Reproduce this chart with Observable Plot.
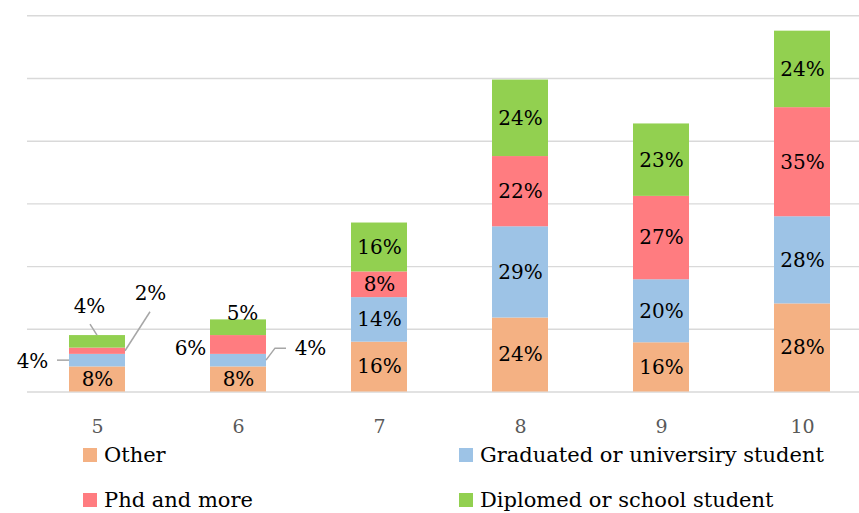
<!DOCTYPE html>
<html><head><meta charset="utf-8">
<script src="https://cdn.jsdelivr.net/npm/d3@7"></script>
<script src="https://cdn.jsdelivr.net/npm/@observablehq/plot@0.6"></script>
<style>
body{margin:0;background:#fff;font-family:"DejaVu Serif",serif;}
#wrap{position:relative;width:859px;height:513px;background:#fff;}
#chart svg{display:block;}
.sw{position:absolute;width:14px;height:14px;}
.lt{position:absolute;font-size:21px;line-height:18px;color:#000;white-space:nowrap;}
</style></head><body><div id="wrap"><div id="chart"></div><div id="legend"></div></div>
<script>
// ---- data ----
const categories = ["5", "6", "7", "8", "9", "10"];
const seriesNames = ["Other", "Graduated or universiry student", "Phd and more", "Diplomed or school student"];
const other     = [8, 8, 15.9, 23.6, 15.7, 28.1];
const graduated = [4, 4, 14.2, 29.1, 20.1, 27.8];
const phd       = [2, 6, 8.2, 22.4, 26.6, 34.8];
const diplomed  = [4, 5, 15.6, 24.4, 23.1, 24.4];
const seriesColors = ["#F4B183", "#9DC3E6", "#FF7C80", "#92D050"];
const gridTicks = [0, 20, 40, 60, 80, 100, 120];

// ---- callout placement (pixel offsets for labels outside small bars) ----
const callouts = [
  {cat: "5", s: 1, dx: -65, dy: 1,   leader: "left",  path: [[0, 0], [-12, 0]]},
  {cat: "5", s: 2, dx: 53,  dy: -58, leader: "right", path: [[0, 0], [25, -39]]},
  {cat: "5", s: 3, dx: -8,  dy: -35, leader: "top",   path: [[0, 0], [-7, -11]]},
  {cat: "6", s: 1, dx: 72,  dy: -12, leader: "right", path: [[0, 0], [9, -12], [20, -12]]},
  {cat: "6", s: 2, dx: -48, dy: 4,   leader: null},
  {cat: "6", s: 3, dx: 4,   dy: -14, leader: null}
];

const values = [other, graduated, phd, diplomed];
const data = [];
seriesNames.forEach((s, i) => categories.forEach((c, j) =>
  data.push({category: c, series: s, value: values[i][j]})));

const isCallout = d => callouts.some(c => c.cat === d.category && seriesNames[c.s] === d.series);
const fmt = d => Math.round(d.value) + "%";
const font = '"DejaVu Serif", serif';

const calloutMarks = callouts.map(c => Plot.text(data, Plot.stackY({
  x: "category", y: "value", z: "series",
  text: d => (d.category === c.cat && d.series === seriesNames[c.s]) ? fmt(d) : null,
  dx: c.dx, dy: c.dy, fill: "#000", fontSize: 20, fontFamily: font
})));

const plot = Plot.plot({
  width: 859, height: 440,
  marginTop: 15.3, marginBottom: 48.5, marginLeft: 27, marginRight: 0,
  style: {fontFamily: font, background: "white"},
  x: {type: "band", domain: categories, range: [26.5, 872.5], paddingInner: 0.6, paddingOuter: 0.3, label: null},
  y: {domain: [0, 120], axis: null},
  color: {domain: seriesNames, range: seriesColors},
  marks: [
    Plot.ruleY(gridTicks, {stroke: "#D9D9D9", strokeWidth: 1.4}),
    Plot.barY(data, {x: "category", y: "value", z: "series", fill: "series"}),
    Plot.axisX({tickSize: 0, tickPadding: 27, fontSize: 19, color: "#595959", fontFamily: font, label: null}),
    Plot.text(data, Plot.stackY({
      x: "category", y: "value", z: "series",
      text: d => isCallout(d) ? null : fmt(d),
      fill: "#000", fontSize: 20, fontFamily: font
    })),
    ...calloutMarks
  ]
});

// leader lines via the plot's own scales
const xs = plot.scale("x"), ys = plot.scale("y");
const bw = xs.bandwidth;
const svg = d3.select(plot);
callouts.filter(c => c.leader).forEach(c => {
  const j = categories.indexOf(c.cat);
  let y0 = 0;
  for (let i = 0; i < c.s; i++) y0 += values[i][j];
  const y1 = y0 + values[c.s][j];
  let ax, ay;
  const left = xs.apply(c.cat);
  if (c.leader === "left") { ax = left; ay = ys.apply((y0 + y1) / 2); }
  else if (c.leader === "right") { ax = left + bw; ay = ys.apply((y0 + y1) / 2); }
  else { ax = left + bw / 2; ay = ys.apply(y1); }
  svg.append("path")
    .attr("d", "M" + c.path.map(p => [ax + p[0], ay + p[1]].join(",")).join("L"))
    .attr("fill", "none").attr("stroke", "#A6A6A6").attr("stroke-width", 1.5);
});

document.getElementById("chart").appendChild(plot);

// legend (HTML below the SVG)
const legendLayout = [{left: 83, top: 448}, {left: 459, top: 448}, {left: 83, top: 493}, {left: 459, top: 493}];
const leg = document.getElementById("legend");
seriesNames.forEach((s, i) => {
  const p = legendLayout[i];
  const sw = document.createElement("div");
  sw.className = "sw"; sw.style.left = p.left + "px"; sw.style.top = p.top + "px";
  sw.style.background = seriesColors[i];
  const t = document.createElement("div");
  t.className = "lt"; t.style.left = (p.left + 21) + "px"; t.style.top = (p.top - 2) + "px";
  t.textContent = s;
  leg.appendChild(sw); leg.appendChild(t);
});
</script></body></html>
